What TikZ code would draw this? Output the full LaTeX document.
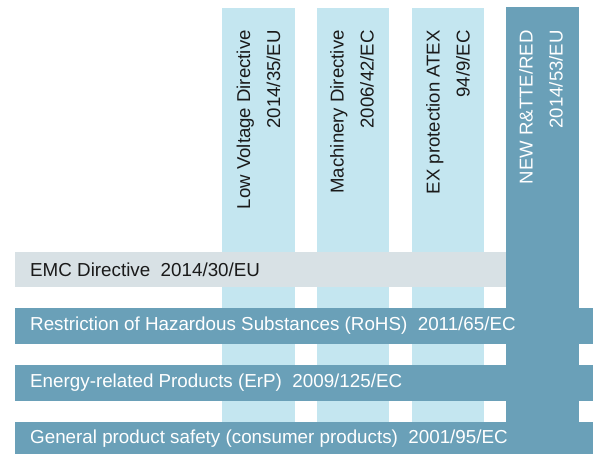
\documentclass[tikz,border=0pt]{standalone}
\usepackage{fontspec}
\setmainfont{Liberation Sans}
\definecolor{lightcol}{HTML}{C4E6F0}
\definecolor{darkcol}{HTML}{6AA0B8}
\definecolor{graycol}{HTML}{D8E1E5}
\definecolor{txt}{HTML}{1A1A1A}
\begin{document}
\begin{tikzpicture}[x=1bp,y=1bp,
  box/.style={draw=none,inner sep=0pt,outer sep=0pt,anchor=south west},
  vtext/.style={rotate=90,anchor=east,align=right,inner sep=0pt,font=\fontsize{18.6bp}{30bp}\selectfont},
  htext/.style={anchor=west,inner sep=0pt,font=\fontsize{18.8bp}{22bp}\selectfont}]
\useasboundingbox (0,0) rectangle (593,454);
% columns
\node[box,fill=lightcol,minimum width=73bp,minimum height=446bp] (c1) at (222,0) {};
\node[box,fill=lightcol,minimum width=72bp,minimum height=446bp] (c2) at (317,0) {};
\node[box,fill=lightcol,minimum width=72bp,minimum height=446bp] (c3) at (412,0) {};
\node[box,fill=darkcol,minimum width=73bp,minimum height=447bp] (c4) at (506,0) {};
% rows
\node[box,fill=graycol,minimum width=491bp,minimum height=35bp] (r1) at (15,167) {};
\node[box,fill=darkcol,minimum width=578bp,minimum height=36bp] (r2) at (15,110) {};
\node[box,fill=darkcol,minimum width=578bp,minimum height=36bp] (r3) at (15,53) {};
\node[box,fill=darkcol,minimum width=578bp,minimum height=32bp] (r4) at (15,0) {};
% column texts
\node[vtext,text=txt] (t1) at (258.5,424) {Low Voltage Directive\\2014/35/EU};
\node[vtext,text=txt] (t2) at (352,424) {Machinery Directive\\2006/42/EC};
\node[vtext,text=txt] (t3) at (448,424) {EX protection ATEX\\94/9/EC};
\node[vtext,text=white] (t4) at (541,424) {NEW R\&TTE/RED\\2014/53/EU};
% row texts
\node[htext,text=txt] (s1) at (30,184) {EMC Directive\ \ 2014/30/EU};
\node[htext,text=white] (s2) at (30,128) {Restriction of Hazardous Substances (RoHS)\ \ 2011/65/EC};
\node[htext,text=white] (s3) at (30,71) {Energy-related Products (ErP)\ \ 2009/125/EC};
\node[htext,text=white] (s4) at (30,15) {General product safety (consumer products)\ \ 2001/95/EC};
\end{tikzpicture}
\end{document}
